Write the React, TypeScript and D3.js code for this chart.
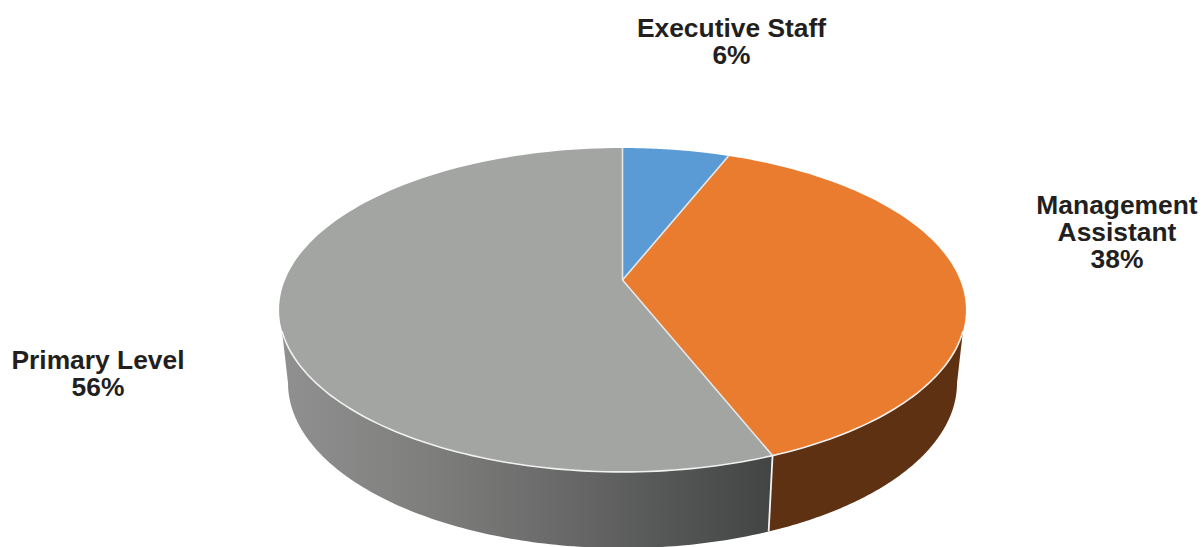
import React from "react";
import * as d3 from "d3";

const categories = ["Executive Staff", "Management Assistant", "Primary Level"];
const shares = [6, 38, 56];
const topColors = ["#5b9bd5", "#ea7c30", "#a3a5a3"];
const labelBlocks = [
  { x: 731.5, y: 37, lines: ["Executive Staff"], share: 0 },
  { x: 1117, y: 214, lines: ["Management", "Assistant"], share: 1 },
  { x: 98, y: 369, lines: ["Primary Level"], share: 2 },
];
const wallStops = [
  [0, "#8f908f"],
  [0.3, "#7e7f7d"],
  [0.6, "#666766"],
  [1, "#424544"],
];

const WIDTH = 1202;
const HEIGHT = 547;

// Perspective projection of the unit disc onto the tilted top face.
const apex = { x: 622.5, y: 280 };
const keystone = -0.185;
const spreadX = 337.5;
const spreadY = 156.4;
const faceCentreY = 310;
const baseCentreY = 383;
const baseScaleX = 0.974;
const baseScaleY = 1.02;

const projectTop = (angle: number): [number, number] => {
  const u = Math.sin(angle);
  const v = -Math.cos(angle);
  const w = 1 + keystone * v;
  return [apex.x + (spreadX * u) / w, apex.y + (spreadY * v) / w];
};

const projectBase = (angle: number): [number, number] => {
  const [x, y] = projectTop(angle);
  return [apex.x + (x - apex.x) * baseScaleX, baseCentreY + (y - faceCentreY) * baseScaleY];
};

const line = d3.line();
const sweep = (a0: number, a1: number, project: (a: number) => [number, number]) =>
  d3.range(0, 121).map((i) => project(a0 + ((a1 - a0) * i) / 120));

const rad = (deg: number) => (deg * Math.PI) / 180;

// The wall's silhouette leaves the top rim and the base rim at different angles.
const rimStart = rad(108);
const rimEnd = rad(252);
const baseStart = rad(100.7);
const baseEnd = rad(259.3);

export default function App() {
  const arcs = d3.pie<number>().sort(null)(shares);
  const seamAngle = arcs[1].endAngle;

  const orangeWall = [...sweep(rimStart, seamAngle, projectTop), ...sweep(seamAngle, baseStart, projectBase)];
  const greyWall = [...sweep(seamAngle, rimEnd, projectTop), ...sweep(baseEnd, seamAngle, projectBase)];

  return (
    <svg
      width={WIDTH}
      height={HEIGHT}
      viewBox={`0 0 ${WIDTH} ${HEIGHT}`}
      style={{ position: "absolute", left: 0, top: 0, background: "#fff" }}
    >
      <defs>
        <linearGradient id="greyWall" gradientUnits="userSpaceOnUse" x1={283} x2={770} y1={0} y2={0}>
          {wallStops.map(([o, c]) => (
            <stop key={String(o)} offset={Number(o)} stopColor={String(c)} />
          ))}
        </linearGradient>
      </defs>

      <path d={line(orangeWall) + "Z"} fill="#5e3113" />
      <path d={line(greyWall) + "Z"} fill="url(#greyWall)" />
      <path
        d={line([projectTop(seamAngle), projectBase(seamAngle)]) ?? ""}
        stroke="#f2f2f2"
        strokeWidth={1.8}
        fill="none"
      />

      {arcs.map((a, i) => (
        <path
          key={categories[i]}
          d={line([[apex.x, apex.y], ...sweep(a.startAngle, a.endAngle, projectTop)]) + "Z"}
          fill={topColors[i]}
        />
      ))}

      {/* Slice dividers and the front rim; the back rim fades into the page. */}
      <path
        d={line(sweep(rimStart, rimEnd, projectTop)) ?? ""}
        stroke="#f0f1f1"
        strokeWidth={1.6}
        fill="none"
      />
      {arcs.map((a, i) => (
        <path
          key={categories[i]}
          d={line([[apex.x, apex.y], projectTop(a.startAngle)]) ?? ""}
          stroke="#e6e8e8"
          strokeWidth={1.6}
          fill="none"
        />
      ))}

      <g
        fontFamily="'Liberation Sans', Arial, sans-serif"
        fontWeight={700}
        fontSize={26.4}
        fill="#231f20"
        textAnchor="middle"
      >
        {labelBlocks.map((block) =>
          [...block.lines, `${shares[block.share]}%`].map((t, j) => (
            <text key={t} x={block.x} y={block.y + j * 27}>
              {t}
            </text>
          ))
        )}
      </g>
    </svg>
  );
}
